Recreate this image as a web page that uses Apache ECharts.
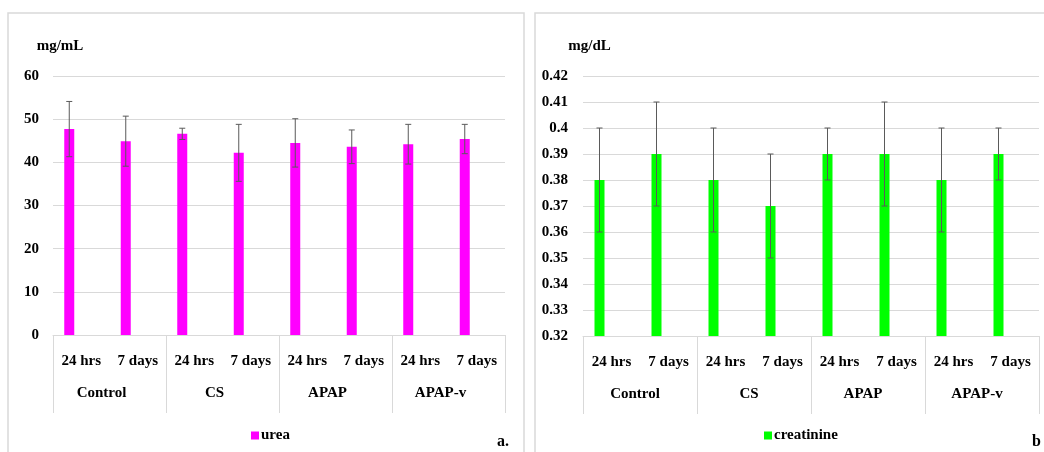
<!DOCTYPE html>
<html>
<head>
<meta charset="utf-8">
<script src="https://cdn.jsdelivr.net/npm/echarts@6/dist/echarts.min.js"></script>
<style>
html, body { margin: 0; padding: 0; background: #fff; }
#chart { width: 1044px; height: 452px; }
</style>
</head>
<body>
<div id="chart"></div>
<script>
var subCats = ['24 hrs', '7 days', '24 hrs', '7 days', '24 hrs', '7 days', '24 hrs', '7 days'];
var groups = ['Control', 'CS', 'APAP', 'APAP-v'];
var ureaVals = [47.7, 44.9, 46.6, 42.2, 44.5, 43.6, 44.2, 45.4];
var ureaErr = [6.4, 5.8, 1.3, 6.6, 5.6, 3.9, 4.6, 3.4];
var creaVals = [0.38, 0.39, 0.38, 0.37, 0.39, 0.39, 0.38, 0.39];
var creaErr = [0.02, 0.02, 0.02, 0.02, 0.01, 0.02, 0.02, 0.01];

var font = '"Liberation Serif", "DejaVu Serif", serif';
var gridColor = '#d9d9d9';
var errColor = '#5a5a5a';
var barW = 10;
var barOffset = -12; // bar sits left of category centre (empty 2nd slot in cluster)

function errorItem(vals, errs) {
    return vals.map(function (v, i) { return [i, v - errs[i], v + errs[i]]; });
}

function errorRender(params, api) {
    var lo = api.coord([api.value(0), api.value(1)]);
    var hi = api.coord([api.value(0), api.value(2)]);
    var x = lo[0] + barOffset;
    var cap = 3;
    var st = { stroke: errColor, lineWidth: 1 };
    return {
        type: 'group',
        children: [
            { type: 'line', shape: { x1: x, y1: lo[1], x2: x, y2: hi[1] }, style: st },
            { type: 'line', shape: { x1: x - cap, y1: lo[1], x2: x + cap, y2: lo[1] }, style: st },
            { type: 'line', shape: { x1: x - cap, y1: hi[1], x2: x + cap, y2: hi[1] }, style: st }
        ]
    };
}

function subAxis(gi) {
    return {
        type: 'category', gridIndex: gi, data: subCats,
        axisLine: { lineStyle: { color: gridColor } },
        axisTick: { show: false },
        axisLabel: { margin: 19, color: '#000', fontFamily: font, fontWeight: 'bold', fontSize: 15 }
    };
}
function groupAxis(gi, shift) {
    return {
        type: 'category', gridIndex: gi, data: groups, position: 'bottom',
        axisLine: { show: false },
        axisTick: { show: true, length: 78, lineStyle: { color: gridColor } },
        axisLabel: { margin: 51, color: '#000', fontFamily: font, fontWeight: 'bold', fontSize: 15, padding: [0, shift, 0, 0] }
    };
}
function valAxis(gi, min, max, interval, unit, pad, margin) {
    return {
        type: 'value', gridIndex: gi, min: min, max: max, interval: interval,
        name: unit, nameLocation: 'end', nameGap: 22,
        nameTextStyle: { color: '#000', fontFamily: font, fontWeight: 'bold', fontSize: 15, align: 'center', padding: [0, 0, 0, pad] },
        axisLine: { show: false }, axisTick: { show: false },
        splitLine: { lineStyle: { color: gridColor } },
        axisLabel: { margin: margin, color: '#000', fontFamily: font, fontWeight: 'bold', fontSize: 15 }
    };
}

var option = {
    backgroundColor: '#fff',
    animation: false,
    graphic: [
        { type: 'rect', shape: { x: 8, y: 13, width: 516, height: 460 }, style: { fill: 'none', stroke: gridColor, lineWidth: 1.5 } },
        { type: 'rect', shape: { x: 535, y: 13, width: 530, height: 460 }, style: { fill: 'none', stroke: gridColor, lineWidth: 1.5 } },
        { type: 'text', left: 497, top: 434, style: { text: 'a.', fill: '#000', font: 'bold 16px ' + font } },
        { type: 'text', left: 1032, top: 434, style: { text: 'b', fill: '#000', font: 'bold 16px ' + font } }
    ],
    grid: [
        { left: 53, top: 76, width: 452, height: 259 },
        { left: 583, top: 76, width: 456, height: 260 }
    ],
    legend: [
        { data: ['urea'], left: 246, top: 423, itemWidth: 8, itemHeight: 8, itemGap: 4, icon: 'rect',
          textStyle: { color: '#000', fontFamily: font, fontWeight: 'bold', fontSize: 15, padding: [0, 0, 0, -3] } },
        { data: ['creatinine'], left: 759, top: 423, itemWidth: 8, itemHeight: 8, itemGap: 4, icon: 'rect',
          textStyle: { color: '#000', fontFamily: font, fontWeight: 'bold', fontSize: 15, padding: [0, 0, 0, -3] } }
    ],
    xAxis: [subAxis(0), groupAxis(0, 16), subAxis(1), groupAxis(1, 10)],
    yAxis: [
        valAxis(0, 0, 60, 10, 'mg/mL', 14, 14),
        valAxis(1, 0.32, 0.42, 0.01, 'mg/dL', 13, 15)
    ],
    series: [
        { name: 'urea', type: 'bar', xAxisIndex: 0, yAxisIndex: 0, data: ureaVals, barWidth: barW, barGap: '140%',
          itemStyle: { color: '#ff00ff' } },
        { name: 'blank1', type: 'bar', xAxisIndex: 0, yAxisIndex: 0, data: [], barWidth: barW },
        { name: 'urea err', type: 'custom', xAxisIndex: 0, yAxisIndex: 0, data: errorItem(ureaVals, ureaErr),
          renderItem: errorRender, encode: { x: 0, y: [1, 2] }, z: 5 },
        { name: 'creatinine', type: 'bar', xAxisIndex: 2, yAxisIndex: 1, data: creaVals, barWidth: barW, barGap: '140%',
          itemStyle: { color: '#00ff00' } },
        { name: 'blank2', type: 'bar', xAxisIndex: 2, yAxisIndex: 1, data: [], barWidth: barW },
        { name: 'creatinine err', type: 'custom', xAxisIndex: 2, yAxisIndex: 1, data: errorItem(creaVals, creaErr),
          renderItem: errorRender, encode: { x: 0, y: [1, 2] }, z: 5 }
    ]
};

var myChart = echarts.init(document.getElementById('chart'));
myChart.setOption(option);
</script>
</body>
</html>
